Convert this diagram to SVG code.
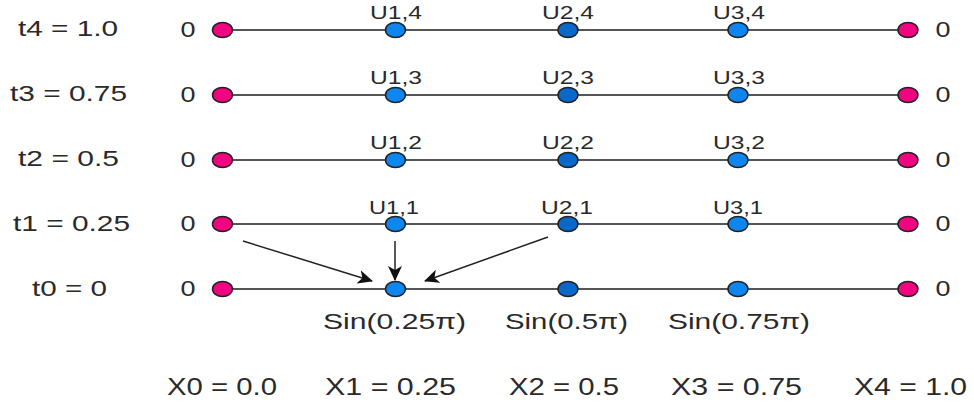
<svg xmlns="http://www.w3.org/2000/svg" width="974" height="406" viewBox="0 0 974 406">
<defs>
<style>
text{font-family:"Liberation Sans",Arial,sans-serif;fill:#2a2a2a;}
.t{font-size:22px;}
.x{font-size:23px;}
.z{font-size:22px;text-anchor:middle;}
.u{font-size:18px;text-anchor:middle;}
.row{stroke:#555;stroke-width:2;fill:none;}
.pink{fill:#f0047f;stroke:#222;stroke-width:1.5;}
.blue{fill:#0e86f0;stroke:#222;stroke-width:1.5;}
.dblue{fill:#0a68c8;stroke:#222;stroke-width:1.5;}
.arr{stroke:#222;stroke-width:1.5;fill:none;marker-end:url(#ah);}
</style>
<marker id="ah" markerWidth="16" markerHeight="14" refX="14" refY="7" orient="auto" markerUnits="userSpaceOnUse">
<path d="M0,0 L15,7 L0,14 L4,7 z" fill="#111"/>
</marker>
</defs>

<g id="axis-labels">
<text class="t" x="18" y="36" textLength="100" lengthAdjust="spacingAndGlyphs">t4 = 1.0</text>
<text class="t" x="10" y="101" textLength="117" lengthAdjust="spacingAndGlyphs">t3 = 0.75</text>
<text class="t" x="18" y="166" textLength="101" lengthAdjust="spacingAndGlyphs">t2 = 0.5</text>
<text class="t" x="13" y="231" textLength="117" lengthAdjust="spacingAndGlyphs">t1 = 0.25</text>
<text class="t" x="32" y="296" textLength="75" lengthAdjust="spacingAndGlyphs">t0 = 0</text>
<text class="x" x="167" y="395" textLength="110" lengthAdjust="spacingAndGlyphs">X0 = 0.0</text>
<text class="x" x="325" y="395" textLength="131" lengthAdjust="spacingAndGlyphs">X1 = 0.25</text>
<text class="x" x="509" y="395" textLength="110" lengthAdjust="spacingAndGlyphs">X2 = 0.5</text>
<text class="x" x="671" y="395" textLength="131" lengthAdjust="spacingAndGlyphs">X3 = 0.75</text>
<text class="x" x="854" y="395" textLength="113" lengthAdjust="spacingAndGlyphs">X4 = 1.0</text>
</g>

<g id="rows">
<line class="row" x1="222" y1="30" x2="908" y2="30"/>
<line class="row" x1="222" y1="95" x2="908" y2="95"/>
<line class="row" x1="222" y1="160" x2="908" y2="160"/>
<line class="row" x1="222" y1="224" x2="908" y2="224"/>
<line class="row" x1="222" y1="289" x2="908" y2="289"/>
</g>

<g id="connectors">
<line class="arr" x1="243" y1="241" x2="372" y2="281"/>
<line class="arr" x1="395" y1="241" x2="395" y2="280"/>
<line class="arr" x1="548" y1="237" x2="425" y2="281"/>
</g>

<g id="row-t4">
<text class="z" x="188" y="37" textLength="15" lengthAdjust="spacingAndGlyphs">0</text>
<ellipse id="b04" class="pink" cx="222.5" cy="30" rx="10" ry="7.5"/>
<g id="u14"><ellipse class="blue" cx="395.5" cy="30" rx="10" ry="7.5"/><text class="u" x="396" y="19" textLength="52" lengthAdjust="spacingAndGlyphs">U1,4</text></g>
<g id="u24"><ellipse class="dblue" cx="568" cy="30" rx="10" ry="7.5"/><text class="u" x="568" y="19" textLength="52" lengthAdjust="spacingAndGlyphs">U2,4</text></g>
<g id="u34"><ellipse class="blue" cx="738" cy="30" rx="10" ry="7.5"/><text class="u" x="739" y="19" textLength="52" lengthAdjust="spacingAndGlyphs">U3,4</text></g>
<ellipse id="b44" class="pink" cx="908" cy="30" rx="10" ry="7.5"/>
<text class="z" x="943" y="37" textLength="15" lengthAdjust="spacingAndGlyphs">0</text>
</g>

<g id="row-t3">
<text class="z" x="188" y="102" textLength="15" lengthAdjust="spacingAndGlyphs">0</text>
<ellipse id="b03" class="pink" cx="222.5" cy="95" rx="10" ry="7.5"/>
<g id="u13"><ellipse class="blue" cx="395.5" cy="95" rx="10" ry="7.5"/><text class="u" x="396" y="84" textLength="52" lengthAdjust="spacingAndGlyphs">U1,3</text></g>
<g id="u23"><ellipse class="dblue" cx="568" cy="95" rx="10" ry="7.5"/><text class="u" x="568" y="84" textLength="52" lengthAdjust="spacingAndGlyphs">U2,3</text></g>
<g id="u33"><ellipse class="blue" cx="738" cy="95" rx="10" ry="7.5"/><text class="u" x="739" y="84" textLength="52" lengthAdjust="spacingAndGlyphs">U3,3</text></g>
<ellipse id="b43" class="pink" cx="908" cy="95" rx="10" ry="7.5"/>
<text class="z" x="943" y="102" textLength="15" lengthAdjust="spacingAndGlyphs">0</text>
</g>

<g id="row-t2">
<text class="z" x="188" y="167" textLength="15" lengthAdjust="spacingAndGlyphs">0</text>
<ellipse id="b02" class="pink" cx="222.5" cy="160" rx="10" ry="7.5"/>
<g id="u12"><ellipse class="blue" cx="395.5" cy="160" rx="10" ry="7.5"/><text class="u" x="396" y="149" textLength="52" lengthAdjust="spacingAndGlyphs">U1,2</text></g>
<g id="u22"><ellipse class="dblue" cx="568" cy="160" rx="10" ry="7.5"/><text class="u" x="568" y="149" textLength="52" lengthAdjust="spacingAndGlyphs">U2,2</text></g>
<g id="u32"><ellipse class="blue" cx="738" cy="160" rx="10" ry="7.5"/><text class="u" x="739" y="149" textLength="52" lengthAdjust="spacingAndGlyphs">U3,2</text></g>
<ellipse id="b42" class="pink" cx="908" cy="160" rx="10" ry="7.5"/>
<text class="z" x="943" y="167" textLength="15" lengthAdjust="spacingAndGlyphs">0</text>
</g>

<g id="row-t1">
<text class="z" x="188" y="231" textLength="15" lengthAdjust="spacingAndGlyphs">0</text>
<ellipse id="b01" class="pink" cx="222.5" cy="224" rx="10" ry="7.5"/>
<g id="u11"><ellipse class="blue" cx="395.5" cy="224" rx="10" ry="7.5"/><text class="u" x="394" y="214" textLength="50" lengthAdjust="spacingAndGlyphs">U1,1</text></g>
<g id="u21"><ellipse class="dblue" cx="568" cy="224" rx="10" ry="7.5"/><text class="u" x="567" y="214" textLength="52" lengthAdjust="spacingAndGlyphs">U2,1</text></g>
<g id="u31"><ellipse class="blue" cx="738" cy="224" rx="10" ry="7.5"/><text class="u" x="738" y="214" textLength="50" lengthAdjust="spacingAndGlyphs">U3,1</text></g>
<ellipse id="b41" class="pink" cx="908" cy="224" rx="10" ry="7.5"/>
<text class="z" x="943" y="231" textLength="15" lengthAdjust="spacingAndGlyphs">0</text>
</g>

<g id="row-t0">
<text class="z" x="188" y="296" textLength="15" lengthAdjust="spacingAndGlyphs">0</text>
<ellipse id="b00" class="pink" cx="222.5" cy="289" rx="10" ry="7.5"/>
<g id="u10"><ellipse class="blue" cx="395.5" cy="289" rx="10" ry="7.5"/><text class="t" x="323" y="329" textLength="143" lengthAdjust="spacingAndGlyphs">Sin(0.25π)</text></g>
<g id="u20"><ellipse class="dblue" cx="568" cy="289" rx="10" ry="7.5"/><text class="t" x="505" y="329" textLength="123" lengthAdjust="spacingAndGlyphs">Sin(0.5π)</text></g>
<g id="u30"><ellipse class="blue" cx="738" cy="289" rx="10" ry="7.5"/><text class="t" x="668" y="329" textLength="142" lengthAdjust="spacingAndGlyphs">Sin(0.75π)</text></g>
<ellipse id="b40" class="pink" cx="908" cy="289" rx="10" ry="7.5"/>
<text class="z" x="943" y="296" textLength="15" lengthAdjust="spacingAndGlyphs">0</text>
</g>
</svg>
